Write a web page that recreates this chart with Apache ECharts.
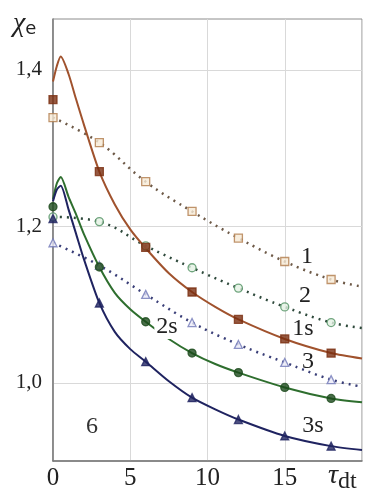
<!DOCTYPE html>
<html>
<head>
<meta charset="utf-8">
<script src="https://cdn.jsdelivr.net/npm/echarts@6/dist/echarts.min.js"></script>
<style>
  html, body { margin: 0; padding: 0; background: #fff; }
  #chart { width: 376px; height: 497px; }
</style>
</head>
<body>
<div id="chart"></div>
<script>
// x positions of the smooth model curves and of the measured markers
const tSolid = [0, 0.25, 0.5, 1, 1.5, 2, 3, 4, 5, 6, 7.5, 9, 10.5, 12, 15, 18, 20];
const tDotted = [0, 3, 6, 9, 12, 15, 18, 20];
const tMarks = [0, 3, 6, 9, 12, 15, 18];

// solid curves 1s, 2s, 3s
const solid1s = [1.385, 1.405, 1.417, 1.395, 1.362, 1.33, 1.27, 1.228, 1.196, 1.172, 1.14, 1.116, 1.097, 1.081, 1.056, 1.038, 1.031];
const solid2s = [1.235, 1.255, 1.263, 1.238, 1.215, 1.19, 1.148, 1.115, 1.094, 1.078, 1.056, 1.038, 1.024, 1.013, 0.994, 0.98, 0.975];
const solid3s = [1.232, 1.247, 1.252, 1.222, 1.19, 1.158, 1.102, 1.065, 1.043, 1.027, 1.002, 0.981, 0.966, 0.953, 0.932, 0.919, 0.914];

// dotted curves 1, 2, 3
const dotted1 = [1.339, 1.307, 1.257, 1.219, 1.185, 1.155, 1.132, 1.123];
const dotted2 = [1.212, 1.206, 1.175, 1.147, 1.121, 1.097, 1.077, 1.07];
const dotted3 = [1.179, 1.15, 1.113, 1.077, 1.049, 1.026, 1.004, 0.995];

// markers
const marks1 = [1.339, 1.307, 1.257, 1.219, 1.185, 1.155, 1.132];
const marks2 = [1.212, 1.206, 1.175, 1.147, 1.121, 1.097, 1.077];
const marks3 = [1.179, 1.15, 1.113, 1.077, 1.049, 1.026, 1.004];
const marks1s = [1.362, 1.27, 1.173, 1.116, 1.081, 1.056, 1.038];
const marks2s = [1.225, 1.148, 1.078, 1.038, 1.013, 0.994, 0.98];
const marks3s = [1.21, 1.102, 1.027, 0.981, 0.953, 0.932, 0.919];

const yTickLabels = ["1,0", "1,2", "1,4"];
const xTickLabels = ["0", "5", "10", "15"];

const serif = "'Liberation Serif', 'DejaVu Serif', serif";

function pairs(xs, ys) {
  return ys.map((v, i) => [xs[i], v]);
}

function curve(xs, ys, color, dotted) {
  return {
    type: "line",
    data: pairs(xs, ys),
    smooth: dotted ? 0.4 : 0.25,
    symbol: "none",
    z: 2,
    lineStyle: dotted
      ? { color: color, width: 2.5, type: [2, 5] }
      : { color: color, width: 2 },
  };
}

function marks(ys, symbol, size, fill, border) {
  return {
    type: "scatter",
    data: pairs(tMarks, ys),
    symbol: symbol,
    symbolSize: size,
    z: 3,
    itemStyle: { color: fill, borderColor: border, borderWidth: 1.3 },
  };
}

let chart = echarts.init(document.getElementById("chart"));

let option = {
  animation: false,
  backgroundColor: "#fff",
  grid: {
    left: 53,
    top: 19,
    right: 14,
    bottom: 36,
    show: true,
    borderColor: "#8c8c8c",
    borderWidth: 1,
    outerBoundsMode: "none",
  },
  xAxis: {
    type: "value",
    min: 0,
    max: 20,
    interval: 5,
    axisLine: { show: true, lineStyle: { color: "#777", width: 1.5 } },
    axisTick: { show: false },
    splitLine: { show: true, lineStyle: { color: "#d9d9d9", width: 1 } },
    axisLabel: {
      margin: 5,
      fontFamily: serif,
      fontSize: 25,
      color: "#222",
      formatter: (v) => {
        let i = Math.round(v / 5);
        return xTickLabels[i] !== undefined && Math.abs(v - i * 5) < 1e-6 ? xTickLabels[i] : "";
      },
    },
  },
  yAxis: {
    type: "value",
    min: 0.9,
    max: 1.465,
    interval: 0.1,
    axisLine: { show: true, lineStyle: { color: "#777", width: 1.5 } },
    axisTick: { show: false },
    splitLine: {
      show: true,
      lineStyle: { color: ["rgba(0,0,0,0)", "#d9d9d9"], width: 1 },
    },
    axisLabel: {
      margin: 11,
      fontFamily: serif,
      fontSize: 21,
      color: "#222",
      formatter: (v) => {
        let k = Math.round((v - 1.0) / 0.2);
        if (Math.abs(v - (1.0 + k * 0.2)) > 1e-6) return "";
        return yTickLabels[k] !== undefined ? yTickLabels[k] : "";
      },
    },
  },
  series: [
    curve(tDotted, dotted1, "#6e5a48", true),
    curve(tDotted, dotted2, "#2f4a3c", true),
    curve(tDotted, dotted3, "#3a3f78", true),
    curve(tSolid, solid1s, "#a0522d", false),
    curve(tSolid, solid2s, "#2e6e2e", false),
    curve(tSolid, solid3s, "#1f2360", false),
    marks(marks1, "rect", 8, "#f6ead6", "#b07a4a"),
    marks(marks2, "circle", 8, "#e3f1e3", "#4f9060"),
    marks(marks3, "triangle", 8, "#ebebf8", "#7078b8"),
    marks(marks1s, "rect", 8, "#7a2e10", "#7a2e10"),
    marks(marks2s, "circle", 8, "#1b4a1b", "#1b4a1b"),
    marks(marks3s, "triangle", 8, "#1f2360", "#1f2360"),
  ],
  graphic: [
    {
      type: "text",
      left: 13,
      top: 10,
      style: {
        text: "{a|χ}{b|e}",
        rich: {
          a: { fontFamily: serif, fontStyle: "italic", fontSize: 28, fill: "#222" },
          b: { fontFamily: "'DejaVu Sans', sans-serif", fontSize: 18, fill: "#222", padding: [10, 0, 0, 0] },
        },
      },
    },
    {
      type: "text",
      left: 328,
      top: 462,
      style: {
        text: "{a|τ}{b|dt}",
        rich: {
          a: { fontFamily: serif, fontStyle: "italic", fontSize: 28, fill: "#222" },
          b: { fontFamily: serif, fontSize: 24, fill: "#222", padding: [12, 0, 0, 0] },
        },
      },
    },
    { type: "text", x: 307, y: 257, style: { text: "1", font: "24px " + serif, fill: "#222", align: "center", verticalAlign: "middle" } },
    { type: "text", x: 305, y: 296, style: { text: "2", font: "24px " + serif, fill: "#222", align: "center", verticalAlign: "middle" } },
    { type: "text", x: 303, y: 329, style: { text: "1s", font: "24px " + serif, fill: "#222", align: "center", verticalAlign: "middle" } },
    { type: "text", x: 308, y: 362, style: { text: "3", font: "24px " + serif, fill: "#222", align: "center", verticalAlign: "middle" } },
    { type: "text", x: 313, y: 426, style: { text: "3s", font: "24px " + serif, fill: "#222", align: "center", verticalAlign: "middle" } },
    { type: "text", x: 92, y: 427, style: { text: "6", font: "24px " + serif, fill: "#333", align: "center", verticalAlign: "middle" } },
    {
      type: "text",
      x: 167,
      y: 327,
      z: 10,
      style: {
        text: "2s",
        font: "24px " + serif,
        fill: "#222",
        align: "center",
        verticalAlign: "middle",
        backgroundColor: "#fff",
        padding: [0, 2],
      },
    },
  ],
};

chart.setOption(option);
</script>
</body>
</html>
